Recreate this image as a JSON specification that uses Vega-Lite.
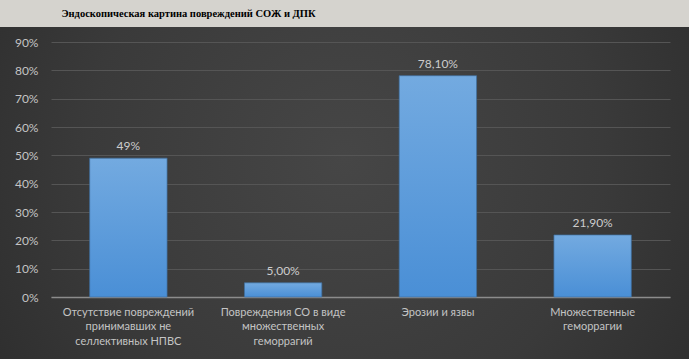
{
  "$schema": "https://vega.github.io/schema/vega-lite/v6.json",
  "background": "#2c2c2c",
  "padding": 0,
  "spacing": 0,
  "config": {"font": "Lato"},
  "vconcat": [
    {
      "width": 689,
      "height": 27,
      "view": {"fill": "#d5d3ce", "stroke": null},
      "data": {"values": [{"t": "Эндоскопическая картина повреждений СОЖ и ДПК"}]},
      "mark": {"type": "text", "font": "Liberation Serif", "fontWeight": "bold", "fontSize": 10.5, "color": "#000000", "dx": -156, "align": "center", "baseline": "middle"},
      "encoding": {"text": {"field": "t", "type": "nominal"}}
    },
    {
      "width": 689,
      "height": 332,
      "view": {"stroke": null, "fill": {"gradient": "radial", "x1": 0.5, "y1": 0.45, "x2": 0.5, "y2": 0.45, "r1": 0, "r2": 0.75, "stops": [{"offset": 0, "color": "#464646"}, {"offset": 0.5, "color": "#3a3a3a"}, {"offset": 1, "color": "#262626"}]}},
      "data": {"values": [
        {"category": "Отсутствие повреждений|принимавших не|селлективных НПВС", "value": 0.49, "label": "49%"},
        {"category": "Повреждения СО в виде|множественных|геморрагий", "value": 0.05, "label": "5,00%"},
        {"category": "Эрозии и язвы", "value": 0.781, "label": "78,10%"},
        {"category": "Множественные|геморрагии", "value": 0.219, "label": "21,90%"}
      ]},
      "encoding": {
        "x": {"field": "category", "type": "nominal", "sort": null, "title": null,
          "scale": {"paddingInner": 0.5, "paddingOuter": 0.25, "range": [51, 670]},
          "axis": {"offset": -62, "labelExpr": "split(datum.label, '|')", "labelAngle": 0, "ticks": false, "domainColor": "#8c8c8c", "domainWidth": 1.5, "labelColor": "#c4c4c4", "labelFontSize": 11, "labelLineHeight": 14.5, "labelPadding": 9, "labelLimit": 0, "labelOverlap": false, "labelBound": false, "grid": false}},
        "y": {"field": "value", "type": "quantitative", "title": null,
          "scale": {"domain": [0, 0.9], "nice": false, "range": [270, 15]},
          "axis": {"offset": -51, "values": [0, 0.1, 0.2, 0.3, 0.4, 0.5, 0.6, 0.7, 0.8, 0.9], "format": ".0%", "domain": false, "ticks": false, "gridColor": "#555555", "gridWidth": 1, "labelColor": "#c4c4c4", "labelFontSize": 12, "labelPadding": 13}}
      },
      "layer": [
        {"mark": {"type": "bar", "stroke": "#3f6f9e", "strokeWidth": 0.7,
          "color": {"gradient": "linear", "x1": 0, "y1": 0, "x2": 0, "y2": 1, "stops": [{"offset": 0, "color": "#73aae0"}, {"offset": 1, "color": "#4a8fd6"}]}}},
        {"mark": {"type": "text", "dy": -12, "color": "#cccccc", "fontSize": 12},
          "encoding": {"text": {"field": "label", "type": "nominal"}}}
      ]
    }
  ]
}
